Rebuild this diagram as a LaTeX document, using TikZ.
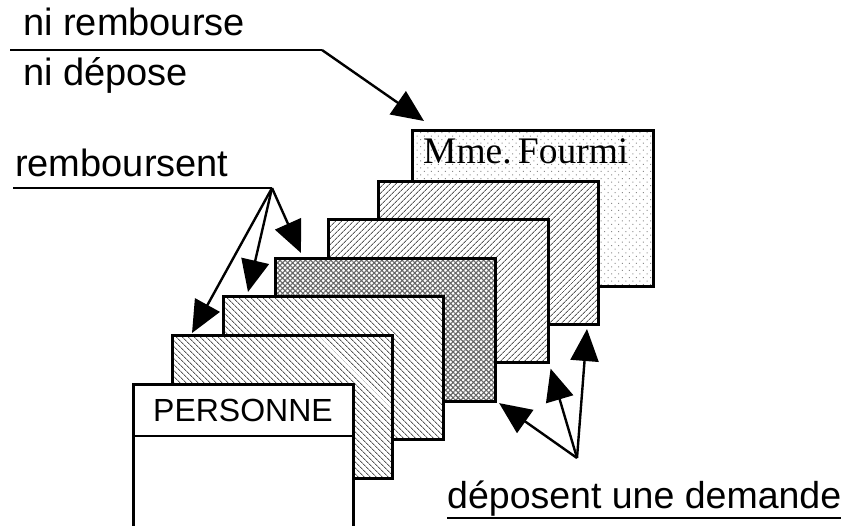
\documentclass[tikz,border=0pt]{standalone}
\usepackage{fontspec}
\setmainfont{Liberation Sans}
\newfontfamily\timesfont{Liberation Serif}
\usetikzlibrary{patterns.meta,arrows.meta,calc}
\begin{document}
\begin{tikzpicture}[x=1pt,y=-1pt,
  card/.style={draw=black, line width=2.6pt, anchor=north west, inner sep=0pt,
    minimum width=220pt, minimum height=143pt, preaction={fill=white}},
  nehatch/.style={pattern={Lines[angle=45,distance=4pt,line width=1pt]}, pattern color=black!65},
  nwhatch/.style={pattern={Lines[angle=-45,distance=4pt,line width=1pt]}, pattern color=black!65},
  xhatch/.style={pattern={Hatch[angle=45,distance=3.6pt,line width=1.1pt]}, pattern color=black!60},
  dotfill/.style={pattern={Dots[angle=45,distance=5pt,radius=0.7pt]}, pattern color=black!45},
  lbl/.style={anchor=base west, inner sep=0pt, font=\fontsize{38}{44}\selectfont},
  lead/.style={line width=2.4pt, line join=miter},
  conn/.style={line width=2.4pt, -{Triangle[length=32pt,width=28pt]}},
]
\useasboundingbox (0,0) rectangle (848,525);
\clip (0,0) rectangle (848,525);

% labels
\node[lbl] (nirem) at (23,35) {ni rembourse};
\node[lbl] (nidep) at (23,85) {ni dépose};
\node[lbl] (remb) at (15,176) {remboursent};
\node[lbl, font=\fontsize{37.5}{44}\selectfont] (dep) at (447,508) {déposent une demande};
\draw[line width=2.4pt] ($(dep.base west)+(0,10)$) -- ($(dep.base east)+(0,10)$);

% cards, back to front
\node[card, dotfill, minimum width=241pt, minimum height=156pt] (f) at (411,129) {};
\node[anchor=base west, inner sep=0pt, font=\timesfont\fontsize{37.5}{44}\selectfont] (ft) at (423,163) {Mme.\,Fourmi};
\node[card, nehatch] (r2) at (378,181) {};
\node[card, nehatch] (r3) at (327,218) {};
\node[card, xhatch] (r4) at (275,258) {};
\node[card, nwhatch] (r5) at (223,296) {};
\node[card, nwhatch] (r6) at (171,334) {};
\node[card, minimum height=170pt] (p) at (132,383) {};
\draw[line width=2.6pt] ($(p.north west)+(0,53)$) -- ($(p.north east)+(0,53)$);
\node[anchor=base, inner sep=0pt, font=\fontsize{32}{36}\selectfont] (pt) at (243,421) {PERSONNE};

% connectors
\coordinate (a0) at (10,50);
\coordinate (a1) at (322,50);
\draw[lead] (a0) -- (a1);
\draw[conn] (a1) -- ($(f.north west)+(13,-8)$);

\coordinate (b0) at (13,188);
\coordinate (b1) at (272,188);
\draw[lead] (b0) -- (b1);
\draw[conn] (b1) -- ($(r6.north west)+(21,-1)$);
\draw[conn] (b1) -- ($(r5.north west)+(25,-4)$);
\draw[conn] (b1) -- ($(r4.north west)+(26,-5)$);

\coordinate (c1) at (577,458);
\draw[conn] (c1) -- ($(r4.south east)+(3,1)$);
\draw[conn] (c1) -- ($(r3.south east)+(1,5)$);
\draw[conn] (c1) -- ($(r2.south east)+(-12,4)$);
\end{tikzpicture}
\end{document}
